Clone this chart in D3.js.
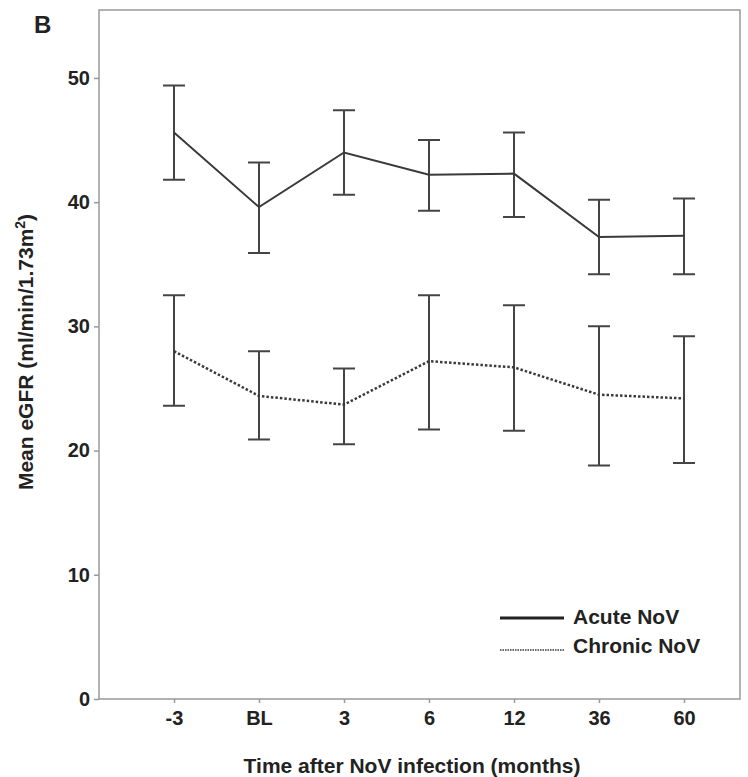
<!DOCTYPE html>
<html>
<head>
<meta charset="utf-8">
<script src="https://cdn.jsdelivr.net/npm/d3@7"></script>
<style>
  body { margin: 0; background: #fff; }
  text { font-family: "Liberation Sans", Arial, sans-serif; font-weight: bold; fill: #222; }
</style>
</head>
<body>
<div id="chart"></div>
<script>
var categories = ['-3', 'BL', '3', '6', '12', '36', '60'];

var acuteMean  = [45.6, 39.6, 44.0, 42.2, 42.3, 37.2, 37.3];
var acuteHigh  = [49.4, 43.2, 47.4, 45.0, 45.6, 40.2, 40.3];
var acuteLow   = [41.8, 35.9, 40.6, 39.3, 38.8, 34.2, 34.2];

var chronicMean = [28.0, 24.4, 23.7, 27.2, 26.7, 24.5, 24.2];
var chronicHigh = [32.5, 28.0, 26.6, 32.5, 31.7, 30.0, 29.2];
var chronicLow  = [23.6, 20.9, 20.5, 21.7, 21.6, 18.8, 19.0];

var yTicks = [0, 10, 20, 30, 40, 50];

var width = 748, height = 777;
var plotLeft = 99, plotRight = 740, plotTop = 10, plotBottom = 699;
var capw = 11;

var svg = d3.select('#chart').append('svg')
  .attr('width', width)
  .attr('height', height);

var x = d3.scalePoint()
  .domain(categories)
  .range([174, 684]);

var y = d3.scaleLinear()
  .domain([0, 55.47])
  .range([plotBottom, plotTop]);

// frame
svg.append('rect')
  .attr('x', plotLeft).attr('y', plotTop)
  .attr('width', plotRight - plotLeft).attr('height', plotBottom - plotTop)
  .attr('fill', 'none')
  .attr('stroke', '#999')
  .attr('stroke-width', 1.5);

// y axis
var yAxis = svg.append('g')
  .attr('transform', 'translate(' + plotLeft + ',0)')
  .call(d3.axisLeft(y).tickValues(yTicks).tickSize(5).tickPadding(4));
yAxis.select('.domain').remove();
yAxis.selectAll('line').attr('stroke', '#999').attr('stroke-width', 1.5);
yAxis.selectAll('text').style('font-size', '20px').attr('fill', '#222');

// x axis
var xAxis = svg.append('g')
  .attr('transform', 'translate(0,' + plotBottom + ')')
  .call(d3.axisBottom(x).tickSize(4).tickPadding(8));
xAxis.select('.domain').remove();
xAxis.selectAll('line').attr('stroke', '#999').attr('stroke-width', 1.5);
xAxis.selectAll('text').style('font-size', '20px').attr('fill', '#222');

function drawSeries(mean, hi, lo, dash, w){
  var pts = categories.map(function(c, i){
    return { c: c, m: mean[i], h: hi[i], l: lo[i] };
  });

  var g = svg.append('g');

  g.selectAll('.ebar').data(pts).enter().append('path')
    .attr('class', 'ebar')
    .attr('fill', 'none')
    .attr('stroke', '#444')
    .attr('stroke-width', 2)
    .attr('d', function(d){
      var cx = x(d.c);
      return 'M' + (cx - capw) + ',' + y(d.h) + 'H' + (cx + capw) +
             'M' + cx + ',' + y(d.h) + 'V' + y(d.l) +
             'M' + (cx - capw) + ',' + y(d.l) + 'H' + (cx + capw);
    });

  var line = d3.line()
    .x(function(d){ return x(d.c); })
    .y(function(d){ return y(d.m); });

  g.append('path')
    .datum(pts)
    .attr('fill', 'none')
    .attr('stroke', '#3a3a3a')
    .attr('stroke-width', w)
    .attr('stroke-dasharray', dash)
    .attr('d', line);
}

drawSeries(acuteMean, acuteHigh, acuteLow, null, 2);
drawSeries(chronicMean, chronicHigh, chronicLow, '2.5,2', 2.5);

// legend
var legend = svg.append('g');
legend.append('line')
  .attr('x1', 500).attr('x2', 564).attr('y1', 618).attr('y2', 618)
  .attr('stroke', '#222').attr('stroke-width', 3);
legend.append('text')
  .attr('x', 573).attr('y', 624)
  .style('font-size', '21px')
  .text('Acute NoV');
legend.append('line')
  .attr('x1', 500).attr('x2', 564).attr('y1', 650).attr('y2', 650)
  .attr('stroke', '#666').attr('stroke-width', 2)
  .attr('stroke-dasharray', '1.5,1');
legend.append('text')
  .attr('x', 573).attr('y', 653)
  .style('font-size', '21px')
  .text('Chronic NoV');

// panel letter
svg.append('text')
  .attr('x', 34).attr('y', 33)
  .style('font-size', '24px')
  .text('B');

// axis titles
svg.append('text')
  .attr('x', 412).attr('y', 773)
  .attr('text-anchor', 'middle')
  .style('font-size', '21px')
  .text('Time after NoV infection (months)');

var yt = svg.append('text')
  .attr('transform', 'translate(33,352) rotate(-90)')
  .attr('text-anchor', 'middle')
  .style('font-size', '21px');
yt.append('tspan').text('Mean eGFR (ml/min/1.73m');
yt.append('tspan').attr('dy', -8).style('font-size', '14px').text('2');
yt.append('tspan').attr('dy', 8).text(')');
</script>
</body>
</html>
